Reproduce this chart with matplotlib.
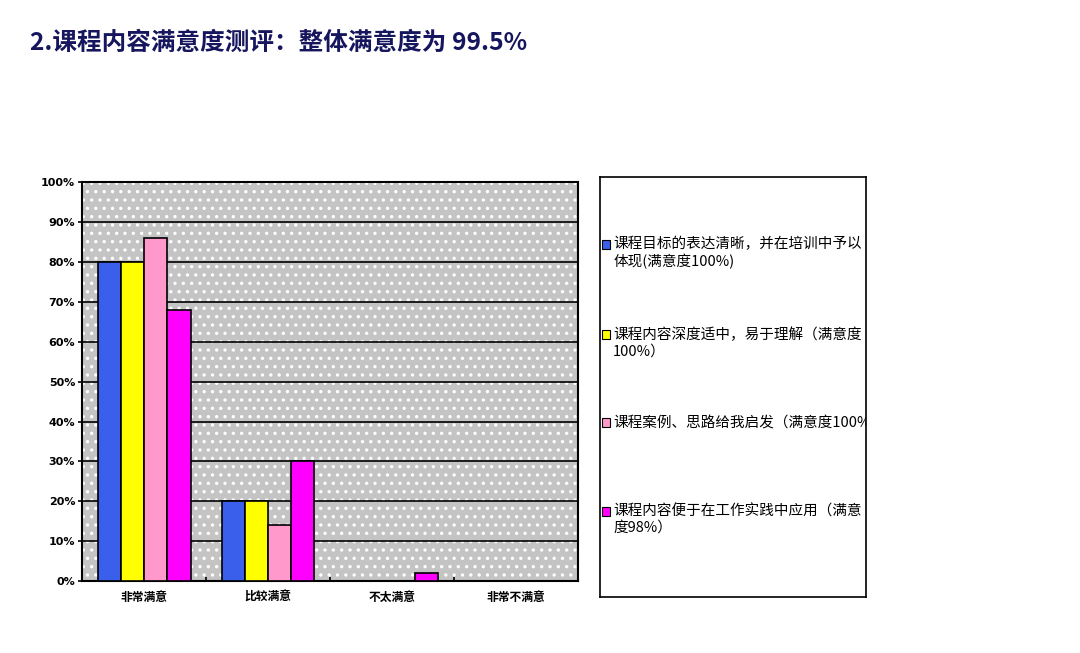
import matplotlib.pyplot as plt
import matplotlib.patches as mpatches
from matplotlib.legend_handler import HandlerPatch
import numpy as np

plt.rcParams['font.family'] = ['Noto Sans CJK SC', 'DejaVu Sans']
plt.rcParams['hatch.color'] = 'white'
plt.rcParams['hatch.linewidth'] = 1.2

# --- data ---
categories = ['非常满意', '比较满意', '不太满意', '非常不满意']
series_names = [
    '课程目标的表达清晰，并在培训中予以\n体现(满意度100%)',
    '课程内容深度适中，易于理解（满意度\n100%）',
    '课程案例、思路给我启发（满意度100%）\n ',
    '课程内容便于在工作实践中应用（满意\n度98%）',
]
goal_clear = [80, 20, 0, 0]
depth_ok = [80, 20, 0, 0]
cases_inspire = [86, 14, 0, 0]
practice_use = [68, 30, 2, 0]
series_values = [goal_clear, depth_ok, cases_inspire, practice_use]
colors = ['#3a5fea', '#ffff00', '#ff99cc', '#ff00ff']

fig = plt.figure(figsize=(10.8, 6.53), dpi=100)
fig.text(0.028, 0.935, '2.课程内容满意度测评：整体满意度为 99.5%',
         fontsize=17.7, fontweight='bold', color='#16165e', va='center')

ax = fig.add_axes([0.076, 0.110, 0.459, 0.611])
ax.set_facecolor('#c4c4c4')
ax.patch.set_hatch('..')
ax.patch.set_edgecolor('white')
ax.patch.set_linewidth(0)

x = np.arange(len(categories))
w = 0.1875
for i, (vals, c) in enumerate(zip(series_values, colors)):
    ax.bar(x + (i - 1.5) * w, vals, width=w, color=c, edgecolor='black',
           linewidth=1.2, zorder=3)

ax.set_xlim(-0.5, 3.5)
ax.set_ylim(0, 100)
ax.set_yticks(np.arange(0, 101, 10))
ax.set_yticklabels([f'{v}%' for v in range(0, 101, 10)], fontsize=8,
                   fontweight='bold', family='DejaVu Sans')
ax.set_xticks(x)
ax.set_xticklabels(categories, fontsize=8.5, fontweight='bold')
ax.set_xticks(np.arange(0.5, 3.0, 1.0), minor=True)
ax.tick_params(axis='x', which='major', length=0, pad=7)
ax.tick_params(axis='x', which='minor', length=3, direction='in', width=1.2)
ax.tick_params(axis='y', length=3, width=1.2, direction='out', pad=2)
ax.grid(True, axis='y', color='black', linewidth=1.2, zorder=1)
ax.set_axisbelow(True)
for s in ax.spines.values():
    s.set_linewidth(1.5)


# legend: square marker sits next to the first text line
def top_square(legend, orig_handle, xdescent, ydescent, width, height, fontsize):
    return mpatches.Rectangle((-xdescent, -ydescent + 0.62 * fontsize), width, height)


lax = fig.add_axes([0.556, 0.086, 0.246, 0.643])
lax.set_xticks([])
lax.set_yticks([])
for s in lax.spines.values():
    s.set_linewidth(1.2)
handles = [mpatches.Patch(facecolor=c, edgecolor='black', linewidth=0.8) for c in colors]
leg = lax.legend(handles, series_names, loc='upper left', frameon=False,
                 bbox_to_anchor=(0.0, 0.86), borderaxespad=0, borderpad=0.1,
                 fontsize=10.5, labelspacing=3.98, handlelength=0.57, handleheight=0.57,
                 handletextpad=0.2,
                 handler_map={mpatches.Patch: HandlerPatch(patch_func=top_square)})
for t in leg.get_texts():
    t.set_clip_box(lax.bbox)
    t.set_clip_on(True)

fig.savefig('out.png', dpi=100)
